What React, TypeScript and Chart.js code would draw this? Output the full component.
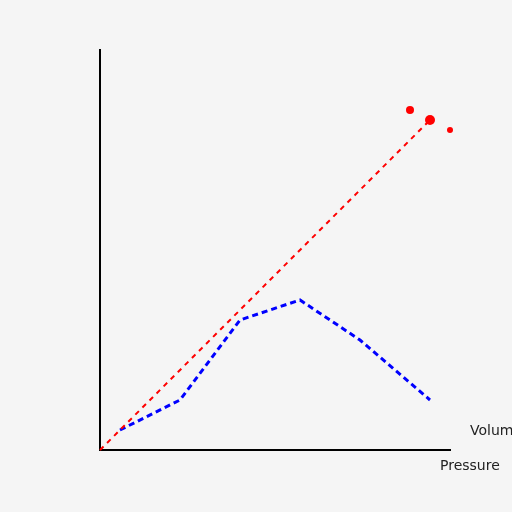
import React, { useEffect, useRef } from "react";
import { Chart, registerables } from "chart.js";

Chart.register(...registerables);

const blueX = [20, 80, 140, 200, 260, 330];
const blueY = [20, 50, 130, 150, 110, 50];
const redLineX = [0, 330];
const redLineY = [0, 330];
const redPointX = [310, 330, 350];
const redPointY = [340, 330, 320];
const redPointRadius = [4, 5, 3];
const xLabel = "Pressure";
const yLabel = "Volume";

const labelPlugin = {
  id: "axisLabels",
  afterDraw(chart: any) {
    const { ctx, chartArea } = chart;
    ctx.save();
    ctx.fillStyle = "#222";
    ctx.font = "14px 'DejaVu Sans', sans-serif";
    ctx.textBaseline = "alphabetic";
    ctx.textAlign = "left";
    ctx.fillText(yLabel, chartArea.right + 20, chartArea.bottom - 15);
    ctx.fillText(xLabel, chartArea.right - 10, chartArea.bottom + 20);
    ctx.restore();
  },
};

const bgPlugin = {
  id: "bg",
  beforeDraw(chart: any) {
    const { ctx, width, height } = chart;
    ctx.save();
    ctx.fillStyle = "#f5f5f5";
    ctx.fillRect(0, 0, width, height);
    ctx.restore();
  },
};

export default function App() {
  const ref = useRef<HTMLCanvasElement>(null);
  useEffect(() => {
    if (!ref.current) return;
    const chart = new Chart(ref.current, {
      type: "line",
      data: {
        datasets: [
          {
            data: redLineX.map((x, i) => ({ x, y: redLineY[i] })),
            borderColor: "#ff0000",
            borderWidth: 2,
            borderDash: [5, 5],
            pointRadius: 0,
            fill: false,
          },
          {
            data: blueX.map((x, i) => ({ x, y: blueY[i] })),
            borderColor: "#0000ff",
            borderWidth: 3,
            borderDash: [6, 4],
            pointRadius: 0,
            fill: false,
          },
          {
            data: redPointX.map((x, i) => ({ x, y: redPointY[i] })),
            showLine: false,
            borderWidth: 0,
            backgroundColor: "#ff0000",
            pointBackgroundColor: "#ff0000",
            pointBorderWidth: 0,
            pointRadius: redPointRadius,
          },
        ],
      },
      options: {
        animation: false,
        responsive: false,
        clip: false,
        layout: { padding: { left: 100, right: 62, top: 50, bottom: 62 } },
        plugins: { legend: { display: false }, tooltip: { enabled: false } },
        scales: {
          x: {
            type: "linear",
            min: 0,
            max: 350,
            grid: { display: false, drawTicks: false },
            ticks: { display: false },
            border: { display: true, color: "#000", width: 2 },
            afterFit: (s: any) => { s.height = 0; },
          },
          y: {
            type: "linear",
            min: 0,
            max: 400,
            grid: { display: false, drawTicks: false },
            ticks: { display: false },
            border: { display: true, color: "#000", width: 2 },
            afterFit: (s: any) => { s.width = 0; },
          },
        },
      },
      plugins: [bgPlugin, labelPlugin],
    });
    return () => chart.destroy();
  }, []);
  return (
    <div style={{ position: "fixed", left: 0, top: 0, width: 512, height: 512 }}>
      <canvas ref={ref} width={512} height={512} style={{ width: 512, height: 512 }} />
    </div>
  );
}
